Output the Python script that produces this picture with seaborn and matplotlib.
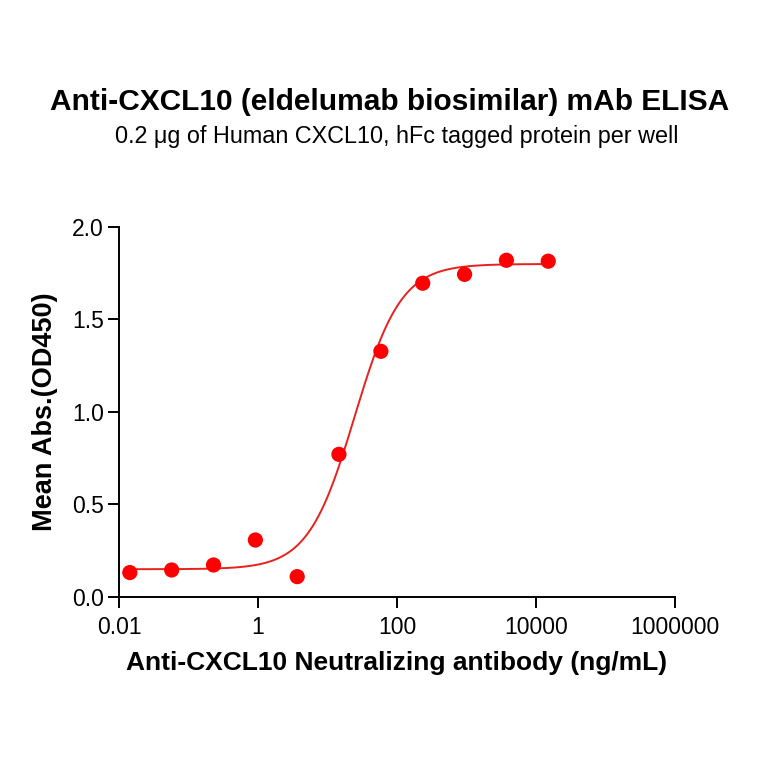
import numpy as np
import pandas as pd
import seaborn as sns
import matplotlib.pyplot as plt

# measured points (4-fold dilution series)
conc = [0.0143, 0.0572, 0.229, 0.916, 3.66, 14.6, 58.6, 234.4, 937.5, 3750, 15000]
od450 = [0.132, 0.146, 0.173, 0.308, 0.110, 0.771, 1.328, 1.696, 1.744, 1.820, 1.815]

# 4PL fit parameters
bottom = 0.15
top = 1.80
log_ec50 = 1.39
hill = 1.30

sns.set_style("ticks")
plt.rcParams['font.family'] = ['Liberation Sans', 'DejaVu Sans']
plt.rcParams['text.color'] = 'black'
plt.rcParams['axes.labelcolor'] = 'black'
plt.rcParams['xtick.color'] = 'black'
plt.rcParams['ytick.color'] = 'black'

df = pd.DataFrame({"conc": conc, "od": od450})

xfit = np.logspace(np.log10(min(conc)), np.log10(max(conc)), 300)
yfit = bottom + (top - bottom) / (1 + 10 ** ((log_ec50 - np.log10(xfit)) * hill))
fit = pd.DataFrame({"conc": xfit, "od": yfit})

fig = plt.figure(figsize=(7.64, 7.64), dpi=100)
ax = fig.add_axes([0.1558, 0.2186, 0.7277, 0.4843])

sns.lineplot(data=fit, x="conc", y="od", color="#e8211e", linewidth=1.4, ax=ax)
sns.scatterplot(data=df, x="conc", y="od", color="#ff0000", s=120, edgecolor="none", ax=ax, zorder=3)

ax.set_xscale("log")
ax.set_xlim(0.01, 1000000)
ax.set_ylim(0, 2.0)
ax.set_xticks([0.01, 1, 100, 10000, 1000000])
ax.set_xticklabels(["0.01", "1", "100", "10000", "1000000"])
ax.xaxis.set_minor_locator(plt.NullLocator())
ax.set_yticks([0.0, 0.5, 1.0, 1.5, 2.0])
ax.set_yticklabels(["0.0", "0.5", "1.0", "1.5", "2.0"])
ax.tick_params(axis="both", labelsize=16.5, length=8, width=1.4, direction="out")
ax.tick_params(axis="x", pad=6)
ax.tick_params(axis="y", pad=3)
for s in ["left", "bottom"]:
    ax.spines[s].set_linewidth(1.4)
    ax.spines[s].set_color("black")
sns.despine(ax=ax)

ax.set_xlabel("Anti-CXCL10 Neutralizing antibody (ng/mL)", fontsize=19, fontweight="bold", labelpad=8)
ax.set_ylabel("Mean Abs.(OD450)", fontsize=19.5, fontweight="bold", labelpad=10)

fig.text(0.5105, 0.867, "Anti-CXCL10 (eldelumab biosimilar) mAb ELISA", ha="center", va="center",
         fontsize=21.5, fontweight="bold")
fig.text(0.519, 0.821, "0.2 \u03bcg of Human CXCL10, hFc tagged protein per well", ha="center", va="center",
         fontsize=16.8)

fig.savefig("out.png", dpi=100)
